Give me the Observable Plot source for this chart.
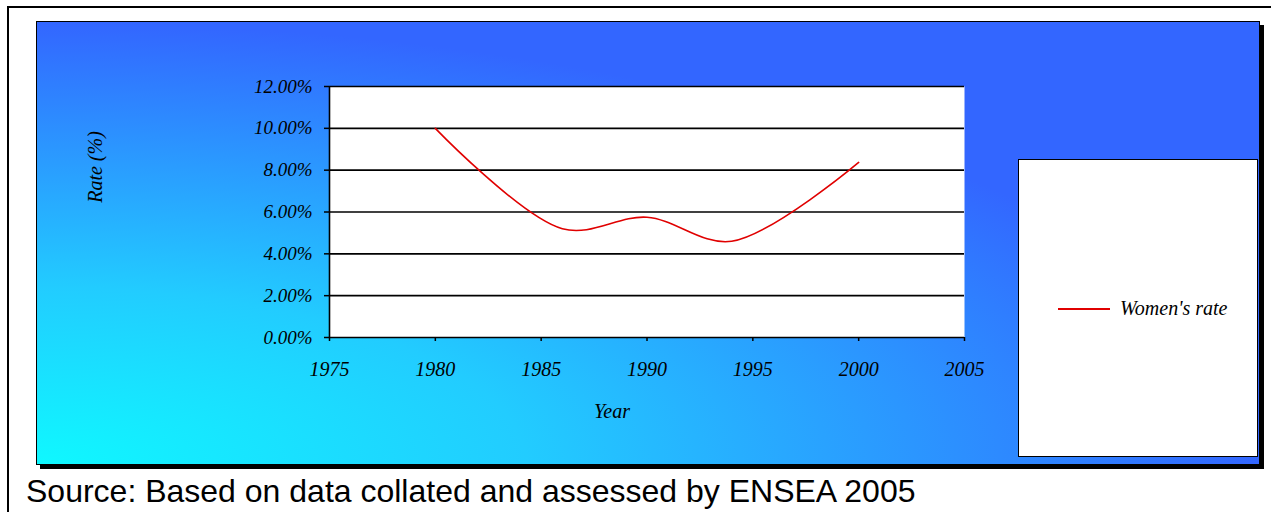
<!DOCTYPE html>
<html><head><meta charset="utf-8">
<script src="https://cdn.jsdelivr.net/npm/d3@7"></script>
<script src="https://cdn.jsdelivr.net/npm/@observablehq/plot@0.6"></script>
<style>
html,body{margin:0;padding:0;width:1271px;height:512px;overflow:hidden;background:#fff;position:relative;}
#frame{position:absolute;left:7px;top:6px;width:1300px;height:600px;border-left:2px solid #000;border-top:2px solid #000;}
#shadow{position:absolute;left:40px;top:25px;width:1224px;height:444px;background:#000;}
#panel{position:absolute;left:36px;top:21px;width:1222px;height:442px;border:1px solid #000;
  background:radial-gradient(ellipse farthest-side at 0% 100%, #0ff8ff 0%, #22ccff 40%, #3366ff 100%);}
#legend{position:absolute;left:1018px;top:159px;width:238px;height:296px;background:#fff;border:1px solid #000;}
#legline{position:absolute;left:1058px;top:308px;width:52px;height:2px;background:#e00000;}
#chart{position:absolute;left:0;top:0;}
.t{position:absolute;font-family:"Liberation Serif",serif;font-style:italic;color:#000;white-space:nowrap;}
#source{position:absolute;left:26px;top:473px;font-family:"Liberation Sans",Arial,sans-serif;font-size:32px;white-space:nowrap;color:#000;}
</style>
</head><body>
<div id="frame"></div>
<div id="shadow"></div>
<div id="panel"></div>
<div id="chart"></div>
<div id="legend"></div>
<div id="legline"></div>
<div class="t" id="legtext" style="left:1120px;top:297px;font-size:20px;">Women's rate</div>
<div class="t" id="ytitle" style="left:95px;top:167px;font-size:20px;transform:translate(-50%,-50%) rotate(-90deg);">Rate (%)</div>
<div class="t" id="xtitle" style="left:612px;top:411px;font-size:20px;transform:translate(-50%,-50%);">Year</div>
<div id="source">Source: Based on data collated and assessed by ENSEA 2005</div>
<script>
const years = [1980, 1986, 1990, 1994, 2000];
const rates = [0.100, 0.052, 0.0575, 0.046, 0.0837];
const yTicks = [0, 0.02, 0.04, 0.06, 0.08, 0.10, 0.12];
const xTicks = [1975, 1980, 1985, 1990, 1995, 2000, 2005];
const data = years.map((y, i) => ({year: y, rate: rates[i]}));

const chart = Plot.plot({
  width: 1271, height: 512,
  marginLeft: 329, marginRight: 307, marginTop: 86, marginBottom: 175,
  style: {background: "transparent", fontFamily: "'Liberation Serif', serif", fontStyle: "italic", fontSize: "19px", color: "#000", overflow: "visible"},
  x: {domain: [1975, 2005], label: null},
  y: {domain: [0, 0.12], label: null},
  marks: [
    Plot.frame({fill: "white", stroke: "none"}),
    Plot.ruleY(yTicks, {stroke: "#000", strokeWidth: 1.6}),
    Plot.ruleX([1975], {stroke: "#000", strokeWidth: 1.6}),
    Plot.axisY({ticks: yTicks, tickFormat: d3.format(".2%"), tickSize: 5, tickPadding: 12, fontSize: 19, label: null, stroke: "#000", strokeWidth: 1.5}),
    Plot.axisX({ticks: xTicks, tickFormat: d => String(d), tickSize: 4, tickPadding: 20, fontSize: 20, label: null, stroke: "#000", strokeWidth: 1.5}),
    Plot.line(data, {x: "year", y: "rate", curve: "catmull-rom", stroke: "#e00000", strokeWidth: 1.6})
  ]
});
document.getElementById("chart").appendChild(chart);
</script>
</body></html>
